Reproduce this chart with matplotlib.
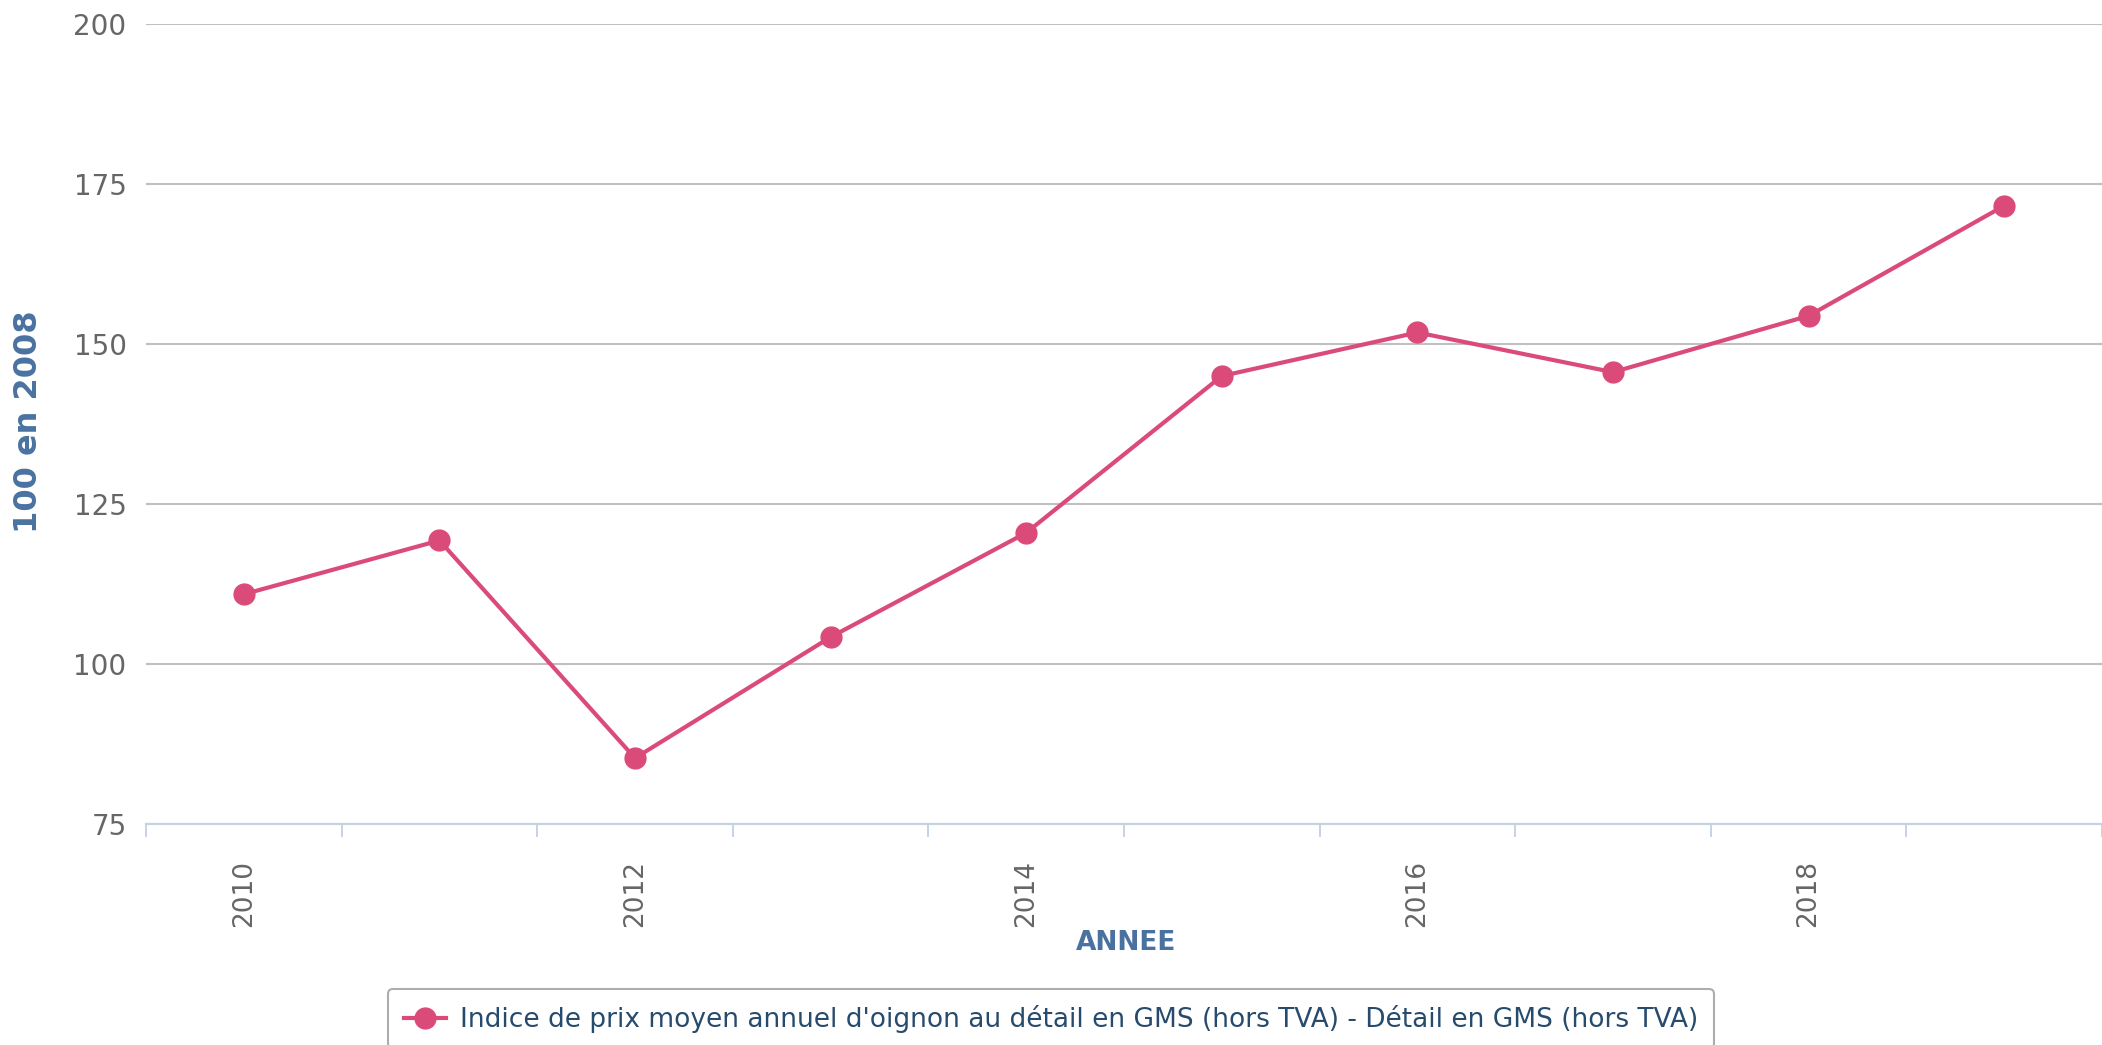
import matplotlib
matplotlib.use("Agg")
import matplotlib.pyplot as plt

# Indice de prix moyen annuel (100 en 2008)
years = [2010, 2011, 2012, 2013, 2014, 2015, 2016, 2017, 2018, 2019]
index_values = [110.9, 119.3, 85.3, 104.2, 120.5, 145.0, 151.8, 145.6, 154.4, 171.6]
label_years = [2010, 2012, 2014, 2016, 2018]
y_ticks = [75, 100, 125, 150, 175, 200]
series_name = ("Indice de prix moyen annuel d'oignon au détail en GMS (hors TVA)"
               " - Détail en GMS (hors TVA)")

LINE_COLOR = "#db4b79"
TITLE_COLOR = "#4a72a0"
TICK_COLOR = "#666666"
GRID_COLOR = "#c0c0c0"
AXIS_COLOR = "#c5d4e4"

W, H = 2102, 1045
fig = plt.figure(figsize=(W / 100, H / 100), dpi=100)
ax = fig.add_axes([146 / W, 1 - 824 / H, (W - 146) / W, 800 / H])

ax.plot(years, index_values, color=LINE_COLOR, linewidth=3.0,
        marker="o", markersize=15, label=series_name, zorder=3, clip_on=False)

ax.set_xlim(2009.5, 2019.5)
ax.set_ylim(75, 200)

# labels every other year, tick marks on the category boundaries
ax.set_xticks(label_years)
ax.set_xticklabels([str(y) for y in label_years], rotation=90, va="top")
ax.set_xticks([y - 0.5 for y in years] + [2019.5], minor=True)
ax.tick_params(axis="x", which="major", length=0, pad=26, labelsize=19,
               labelcolor=TICK_COLOR)
ax.tick_params(axis="x", which="minor", length=9, width=1.4, color=AXIS_COLOR)

ax.set_yticks(y_ticks)
ax.tick_params(axis="y", length=0, pad=14, labelsize=20, labelcolor=TICK_COLOR)

ax.grid(axis="y", color=GRID_COLOR, linewidth=1.5)
ax.set_axisbelow(True)
for side in ("top", "right", "left"):
    ax.spines[side].set_visible(False)
ax.spines["bottom"].set_color(AXIS_COLOR)
ax.spines["bottom"].set_linewidth(1.6)
ax.spines["bottom"].set_zorder(2.5)

fig.text(29 / W, 1 - 422 / H, "100 en 2008", rotation=90, ha="center", va="center",
         fontsize=23, fontweight="bold", color=TITLE_COLOR)
fig.text(1126 / W, 1 - 943 / H, "ANNEE", ha="center", va="center",
         fontsize=19, fontweight="bold", color=TITLE_COLOR)

leg = fig.legend(loc="upper center", bbox_to_anchor=(0.5, 1 - 989 / H),
                 fontsize=19, frameon=True, fancybox=True, handlelength=1.6,
                 handletextpad=0.55, borderpad=0.6, borderaxespad=0)
leg.get_frame().set_edgecolor("#999999")
leg.get_frame().set_linewidth(1.5)
for txt in leg.get_texts():
    txt.set_color("#274b6d")

fig.savefig("out.png", dpi=100)
